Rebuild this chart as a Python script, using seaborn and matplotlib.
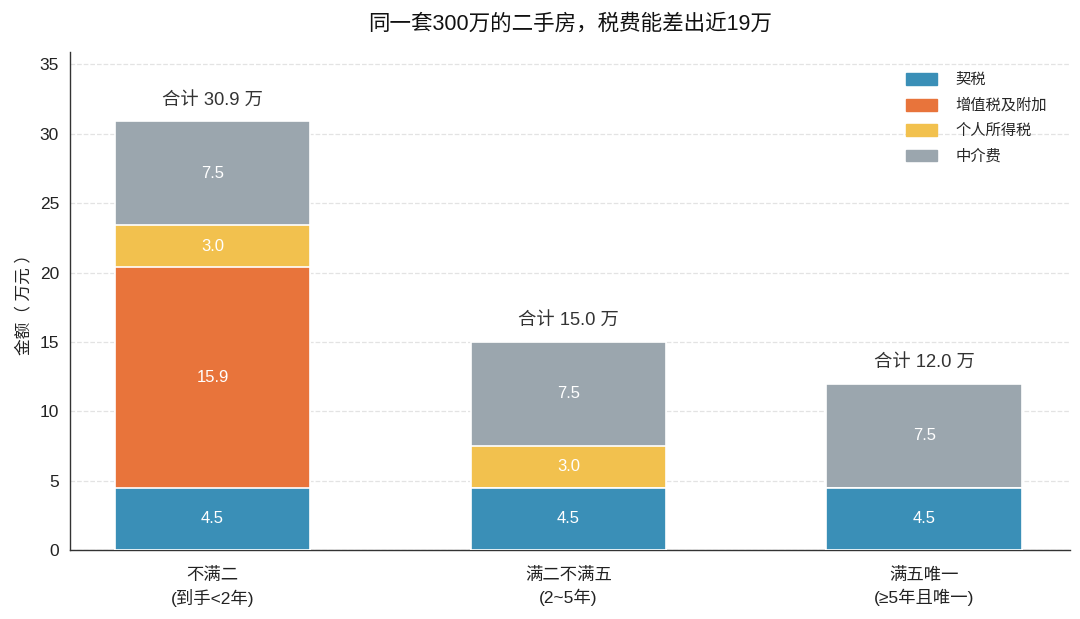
import numpy as np
import pandas as pd
import matplotlib
matplotlib.use('Agg')
import matplotlib.pyplot as plt
import seaborn as sns

categories = ['不满二\n(到手<2年)', '满二不满五\n(2~5年)', '满五唯一\n(≥5年且唯一)']
deed_tax = [4.5, 4.5, 4.5]
vat = [15.9, 0.0, 0.0]
income_tax = [3.0, 3.0, 0.0]
agent_fee = [7.5, 7.5, 7.5]
series_names = ['契税', '增值税及附加', '个人所得税', '中介费']
colors = ['#3A8FB7', '#E8743B', '#F2C14E', '#9BA6AE']

sns.set_style('white')
plt.rcParams['font.family'] = ['Liberation Sans', 'Noto Sans CJK SC', 'DejaVu Sans']
plt.rcParams['axes.unicode_minus'] = False

layers = np.array([deed_tax, vat, income_tax, agent_fee])
cum = np.cumsum(layers, axis=0)
totals = cum[-1]

fig = plt.figure(figsize=(10.8, 6.19), dpi=100)
ax = fig.add_axes([0.065, 0.1115, 0.926, 0.8045])

# draw cumulative heights from the top layer down so each segment shows
for i in range(len(series_names) - 1, -1, -1):
    df = pd.DataFrame({'cat': categories, 'val': cum[i]})
    sns.barplot(data=df, x='cat', y='val', color=colors[i], width=0.55,
                edgecolor='white', linewidth=1.2, saturation=1, ax=ax, zorder=3)

# segment labels
for j in range(len(categories)):
    for i in range(len(series_names)):
        v = layers[i, j]
        if v > 0:
            ax.text(j, cum[i, j] - v / 2, f'{v:.1f}', ha='center', va='center',
                    color='white', fontsize=12, zorder=5)
    ax.text(j, totals[j] + 1.55, f'合计 {totals[j]:.1f} 万', ha='center', va='center',
            color='#333333', fontsize=13.2, zorder=5)

ax.set_ylim(0, 35.9)
ax.set_xlim(-0.4, 2.41)
ax.set_yticks(range(0, 36, 5))
ax.yaxis.grid(True, linestyle='--', color='#E3E3E3', linewidth=0.9, zorder=0)
ax.set_axisbelow(True)
ax.set_xlabel('')
ax.set_ylabel('金额（ 万元 ）', fontsize=12, color='#222222', labelpad=6)
ax.tick_params(axis='y', labelsize=12.5, colors='#222222', length=4, width=0.8, pad=4)
ax.tick_params(axis='x', labelsize=12.5, colors='#222222', length=4, width=0.8, pad=8)
for lbl in ax.get_xticklabels():
    lbl.set_linespacing(1.45)
sns.despine(ax=ax)
for s in ['left', 'bottom']:
    ax.spines[s].set_color('#333333')
    ax.spines[s].set_linewidth(1.0)

handles = [plt.Rectangle((0, 0), 1, 1, color=c) for c in colors]
ax.legend(handles, series_names, loc='upper right', bbox_to_anchor=(0.99, 0.985),
          frameon=False, fontsize=11, handlelength=2.0, handleheight=0.8,
          labelspacing=0.72, handletextpad=1.2)

fig.suptitle('同一套300万的二手房，税费能差出近19万', fontsize=15.5, color='#111111',
             y=0.978, x=0.528)

fig.savefig('out.png', dpi=100)
